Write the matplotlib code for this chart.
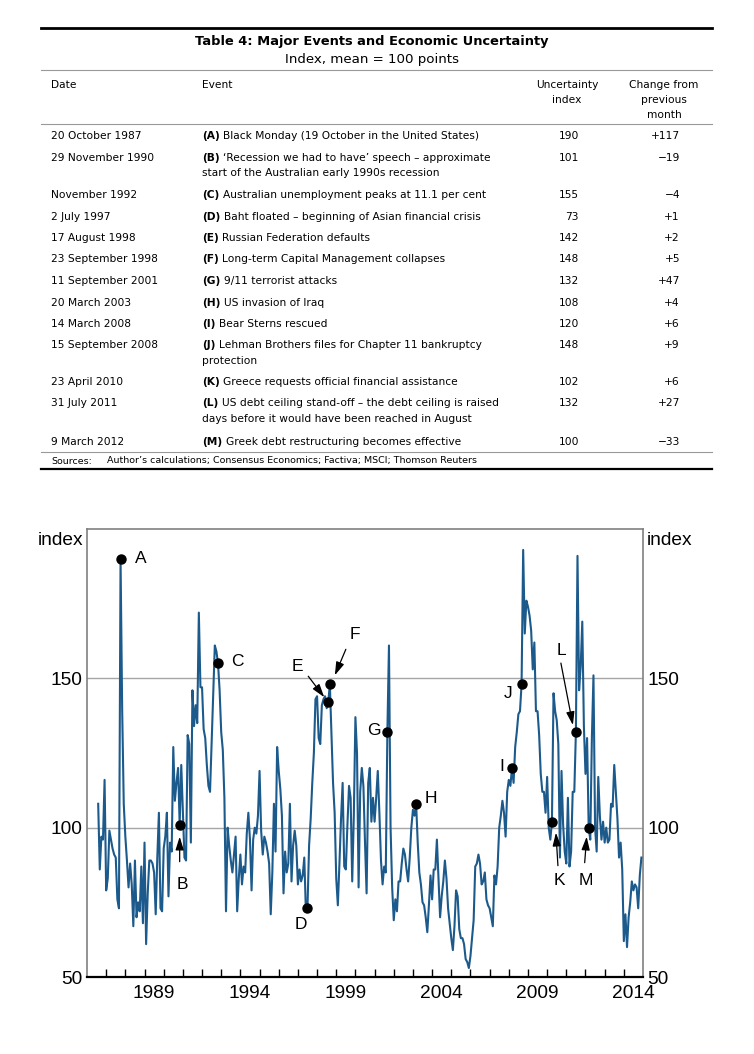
import matplotlib.pyplot as plt
import matplotlib.transforms as mtransforms

# ---- table data ----
event_keys = list('ABCDEFGHIJKLM')
event_dates = ['20 October 1987', '29 November 1990', 'November 1992', '2 July 1997',
               '17 August 1998', '23 September 1998', '11 September 2001', '20 March 2003',
               '14 March 2008', '15 September 2008', '23 April 2010', '31 July 2011',
               '9 March 2012']
event_text = [
    ['Black Monday (19 October in the United States)'],
    ['\u2018Recession we had to have\u2019 speech \u2013 approximate',
     'start of the Australian early 1990s recession'],
    ['Australian unemployment peaks at 11.1 per cent'],
    ['Baht floated \u2013 beginning of Asian financial crisis'],
    ['Russian Federation defaults'],
    ['Long-term Capital Management collapses'],
    ['9/11 terrorist attacks'],
    ['US invasion of Iraq'],
    ['Bear Sterns rescued'],
    ['Lehman Brothers files for Chapter 11 bankruptcy', 'protection'],
    ['Greece requests official financial assistance'],
    ['US debt ceiling stand-off \u2013 the debt ceiling is raised',
     'days before it would have been reached in August'],
    ['Greek debt restructuring becomes effective'],
]
event_index = [190, 101, 155, 73, 142, 148, 132, 108, 120, 148, 102, 132, 100]
event_change = ['+117', '\u221219', '\u22124', '+1', '+2', '+5', '+47', '+4', '+6', '+9',
                '+6', '+27', '\u221233']
# month of each event (for the chart)
event_month = [(1987, 10), (1990, 11), (1992, 11), (1997, 7), (1998, 8), (1998, 9),
               (2001, 9), (2003, 3), (2008, 3), (2008, 9), (2010, 4), (2011, 7), (2012, 3)]

# ---- monthly uncertainty index, Aug 1986 - Dec 2014 ----
start_year, start_month = 1986, 8
uncertainty = [
    108, 86, 97, 96, 116,                                   # 1986
    79, 83, 99, 96, 93, 91, 90, 76, 73, 190, 140, 108,      # 1987
    97, 89, 80, 88, 81, 67, 89, 70, 75, 72, 87, 68,         # 1988
    95, 61, 78, 89, 89, 88, 85, 71, 90, 105, 73, 72,        # 1989
    93, 97, 105, 77, 95, 92, 127, 109, 115, 120, 101, 121,  # 1990
    105, 90, 89, 131, 128, 95, 146, 134, 141, 135, 172, 147,  # 1991
    147, 133, 130, 121, 114, 112, 128, 144, 161, 159, 155, 146,  # 1992
    132, 126, 110, 72, 100, 94, 89, 85, 91, 97, 72, 83,     # 1993
    91, 81, 87, 85, 98, 105, 96, 79, 96, 100, 98, 104,      # 1994
    119, 99, 91, 97, 95, 92, 88, 71, 85, 108, 92, 127,      # 1995
    119, 113, 104, 78, 92, 85, 88, 108, 82, 94, 99, 94,     # 1996
    81, 86, 82, 84, 90, 72, 73, 94, 103, 115, 125, 143,     # 1997
    144, 130, 128, 141, 143, 144, 140, 142, 148, 132, 115, 105,  # 1998
    83, 74, 88, 103, 115, 87, 86, 101, 114, 110, 82, 104,   # 1999
    137, 125, 80, 112, 120, 114, 95, 78, 115, 120, 102, 110,  # 2000
    102, 110, 119, 105, 89, 81, 87, 85, 132, 161, 100, 80,  # 2001
    69, 76, 72, 82, 82, 88, 93, 91, 86, 82, 90, 100,        # 2002
    106, 104, 108, 95, 85, 81, 75, 74, 70, 65, 74, 84,      # 2003
    76, 86, 86, 96, 83, 70, 77, 82, 89, 83, 73, 68,         # 2004
    63, 59, 67, 79, 77, 66, 63, 63, 61, 56, 55, 53,         # 2005
    57, 63, 69, 87, 88, 91, 88, 81, 82, 85, 76, 74,         # 2006
    73, 70, 67, 84, 81, 87, 100, 104, 109, 105, 97, 112,    # 2007
    116, 114, 120, 115, 127, 132, 138, 139, 148, 193, 165, 176,  # 2008
    174, 171, 166, 153, 162, 139, 139, 131, 118, 112, 112, 105,  # 2009
    117, 100, 96, 102, 145, 139, 136, 128, 90, 119, 101, 92,  # 2010
    88, 110, 87, 92, 112, 112, 132, 191, 146, 154, 169, 134,  # 2011
    118, 130, 100, 96, 130, 151, 100, 92, 117, 104, 96, 102,  # 2012
    95, 100, 95, 96, 108, 107, 121, 112, 103, 90, 95, 86,   # 2013
    62, 71, 60, 70, 75, 82, 79, 81, 80, 73, 84, 90,         # 2014
]
label_years = [1989, 1994, 1999, 2004, 2009, 2014]
y_ticks = [50, 100, 150]

dates = [start_year + (start_month - 1 + i) / 12 for i in range(len(uncertainty))]
event_x = [y + (m - 1) / 12 for y, m in event_month]

W, H = 754, 1054
plt.rcParams['font.family'] = 'Liberation Sans'
fig = plt.figure(figsize=(W / 100, H / 100), dpi=100)
renderer = fig.canvas.get_renderer()

# ---------------- table (pixel coordinates) ----------------
tab = fig.add_axes([0, 0, 1, 1])
tab.set_xlim(0, W)
tab.set_ylim(H, 0)
tab.axis('off')
tf = dict(family='DejaVu Sans', va='center')
fs = 7.7

tab.plot([41, 712], [28, 28], color='black', lw=2.0)
tab.text(372, 41, 'Table 4: Major Events and Economic Uncertainty', ha='center',
         fontsize=9.4, fontweight='bold', **tf)
tab.text(372, 59, 'Index, mean = 100 points', ha='center', fontsize=9.6, **tf)
tab.plot([41, 712], [70, 70], color='#999999', lw=0.8)

tab.text(51, 85, 'Date', fontsize=fs, **tf)
tab.text(202, 85, 'Event', fontsize=fs, **tf)
tab.text(567, 85, 'Uncertainty', ha='center', fontsize=fs, **tf)
tab.text(567, 100, 'index', ha='center', fontsize=fs, **tf)
tab.text(664, 85, 'Change from', ha='center', fontsize=fs, **tf)
tab.text(664, 100, 'previous', ha='center', fontsize=fs, **tf)
tab.text(664, 115, 'month', ha='center', fontsize=fs, **tf)
tab.plot([41, 712], [124, 124], color='#999999', lw=0.8)

row_y = [136, 158, 195, 217, 238, 259, 281, 303, 324, 345, 382, 403, 442]
for i, y in enumerate(row_y):
    tab.text(51, y, event_dates[i], fontsize=fs, **tf)
    key = tab.text(202, y, '(%s)' % event_keys[i], fontsize=fs, fontweight='bold', **tf)
    x1 = key.get_window_extent(renderer).x1
    tab.text(x1 + 3.5, y, event_text[i][0], fontsize=fs, **tf)
    for j, line in enumerate(event_text[i][1:]):
        tab.text(202, y + 15.5 * (j + 1), line, fontsize=fs, **tf)
    tab.text(579, y, str(event_index[i]), ha='right', fontsize=fs, **tf)
    tab.text(680, y, event_change[i], ha='right', fontsize=fs, **tf)

tab.plot([41, 712], [452, 452], color='#999999', lw=0.8)
tab.text(51, 461, 'Sources:', fontsize=6.8, **tf)
tab.text(107, 461, 'Author\u2019s calculations; Consensus Economics; Factiva; MSCI; Thomson Reuters',
         fontsize=6.8, **tf)
tab.plot([41, 712], [469, 469], color='black', lw=1.6)

# ---------------- chart ----------------
ax = fig.add_axes([87 / W, 1 - 977 / H, 556 / W, 448 / H])
ax.axhline(100, color='#a6a6a6', lw=1.0, zorder=1)
ax.axhline(150, color='#a6a6a6', lw=1.0, zorder=1)
ax.plot(dates, uncertainty, color='#1c5a8c', lw=1.5, zorder=3)
ax.plot(event_x, event_index, 'o', color='black', ms=6.5, zorder=5)

ax.set_xlim(1986, 2015)
ax.set_ylim(50, 200)
ax.set_xticks(range(1987, 2015))
ax.set_xticks([y + 0.5 for y in label_years], minor=True)
ax.set_xticklabels([str(y) for y in label_years], minor=True)
ax.tick_params(axis='x', which='major', direction='in', length=5.5, width=1.0,
               labelbottom=False)
ax.tick_params(axis='x', which='minor', length=0, pad=6, labelsize=13.8)
ax.set_yticks(y_ticks)
ax.set_yticklabels([str(v) for v in y_ticks])
ax.tick_params(axis='y', length=0, labelleft=True, labelright=True, pad=3,
               labelsize=13.8)
for s in ['left', 'top', 'right']:
    ax.spines[s].set_color('#808080')
    ax.spines[s].set_linewidth(1.2)
ax.spines['bottom'].set_color('black')
ax.spines['bottom'].set_linewidth(1.6)

blend = mtransforms.blended_transform_factory(ax.transAxes, ax.transData)
ax.text(-0.007, 196, 'index', transform=blend, ha='right', va='center', fontsize=13.8)
ax.text(1.007, 196, 'index', transform=blend, ha='left', va='center', fontsize=13.8)

# label offsets in pixels from the dot (+x right, +y down)
label_off = {'A': (20, 0), 'B': (3, 60), 'C': (19, -2), 'D': (-7, 16), 'E': (-31, -36),
             'F': (25, -50), 'G': (-13, -2), 'H': (15, -5), 'I': (-10, -1), 'J': (-13, 9),
             'K': (7, 59), 'L': (-14, -82), 'M': (-3, 53)}
# arrows: (tail, head) in pixels from the dot
arrow_off = {'B': ((0, 37), (0, 12)), 'E': ((-20, -26), (-4, -5)),
             'F': ((16, -35), (5, -9)), 'K': ((6, 44), (4, 11)),
             'L': ((-15, -69), (-3, -7)), 'M': ((-4, 35), (-2, 9))}
pt = 0.72
for k, x, v in zip(event_keys, event_x, event_index):
    dx, dy = label_off[k]
    ax.annotate(k, (x, v), xytext=(dx * pt, -dy * pt), textcoords='offset points',
                ha='center', va='center', fontsize=12.5, zorder=6)
    if k in arrow_off:
        (tx, ty), (hx, hy) = arrow_off[k]
        head = mtransforms.offset_copy(ax.transData, fig, x=hx * pt, y=-hy * pt,
                                       units='points')
        ax.annotate('', xy=(x, v), xycoords=head,
                    xytext=((tx - hx) * pt, -(ty - hy) * pt), textcoords='offset points',
                    arrowprops=dict(arrowstyle='-|>,head_length=0.8,head_width=0.25',
                                    color='black', lw=0.9, shrinkA=0, shrinkB=0,
                                    mutation_scale=10))

fig.savefig('out.png', dpi=100)
